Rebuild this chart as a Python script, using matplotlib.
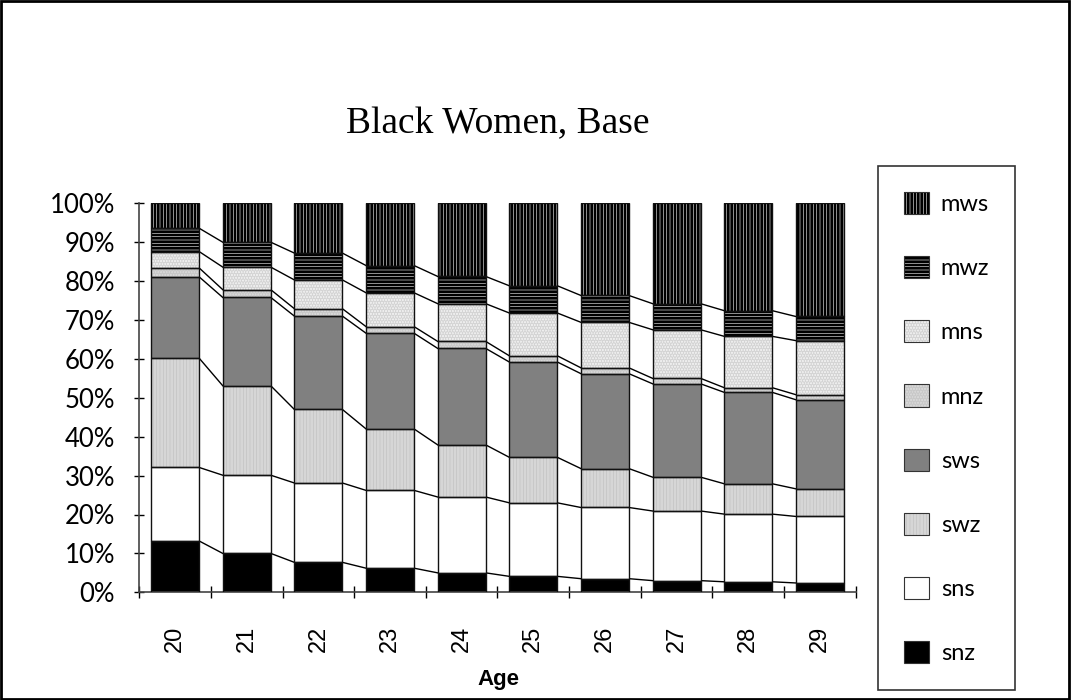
import matplotlib
matplotlib.use("Agg")
import matplotlib.pyplot as plt
from matplotlib.patches import Patch, Rectangle
import numpy as np

# percentages, bottom layer first
ages = ["20", "21", "22", "23", "24", "25", "26", "27", "28", "29"]
snz = [13.2, 10.0, 7.7, 6.2, 5.0, 4.1, 3.5, 3.0, 2.7, 2.4]
sns = [18.9, 20.1, 20.4, 20.0, 19.5, 18.9, 18.3, 17.9, 17.4, 17.1]
swz = [28.1, 23.0, 18.9, 15.8, 13.4, 11.7, 10.0, 8.7, 7.8, 7.1]
sws = [20.9, 22.7, 24.0, 24.6, 24.8, 24.5, 24.4, 24.0, 23.5, 22.9]
mnz = [2.3, 2.0, 1.9, 1.7, 1.8, 1.6, 1.5, 1.4, 1.2, 1.3]
mns = [4.2, 5.8, 7.4, 8.7, 9.7, 11.0, 11.7, 12.5, 13.2, 13.9]
mwz = [6.0, 6.4, 6.9, 7.0, 7.0, 7.0, 6.9, 6.7, 6.6, 6.2]
mws = [6.4, 10.0, 12.8, 16.0, 18.8, 21.2, 23.7, 25.8, 27.6, 29.1]

series = [("snz", snz), ("sns", sns), ("swz", swz), ("sws", sws),
          ("mnz", mnz), ("mns", mns), ("mwz", mwz), ("mws", mws)]

# face colour, hatch, hatch colour
styles = {
    "snz": ("black", "", "black"),
    "sns": ("white", "", "white"),
    "swz": ("#bdbdbd", "|||||", "#d6d6d6"),
    "sws": ("#808080", "", "#808080"),
    "mnz": ("#dadada", "......", "#c8c8c8"),
    "mns": ("#f2f2f2", "......", "#d4d4d4"),
    "mwz": ("white", "-----", "black"),
    "mws": ("white", "|||||", "black"),
}

plt.rcParams["hatch.linewidth"] = 2.0

fig = plt.figure(figsize=(10.71, 7.0), dpi=100)
ax = fig.add_axes([139.3 / 1071, 107.7 / 700, 716.4 / 1071, 389.0 / 700])

x = np.arange(len(ages))
w = 0.67
bottom = np.zeros(len(ages))
handles = {}
for name, vals in series:
    fc, hatch, hc = styles[name]
    ax.bar(x, vals, w, bottom=bottom, color=fc, hatch=hatch, edgecolor=hc,
           linewidth=0, zorder=2)
    ax.bar(x, vals, w, bottom=bottom, facecolor="none", edgecolor="#111111",
           linewidth=1.0, zorder=3)
    handles[name] = (Patch(facecolor=fc, hatch=hatch, edgecolor=hc, linewidth=0),
                     Patch(facecolor="none", edgecolor="#333333", linewidth=0.8))
    bottom = bottom + np.array(vals)
    # series lines between bars
    if name != "mws":
        for i in range(len(ages) - 1):
            ax.plot([x[i] + w / 2, x[i + 1] - w / 2], [bottom[i], bottom[i + 1]],
                    color="black", linewidth=1.0, zorder=1)

ax.set_xlim(-0.5, len(ages) - 0.5)
ax.set_ylim(0, 100)
ax.set_yticks(np.arange(0, 101, 10))
ax.set_yticklabels([f"{v}%" for v in range(0, 101, 10)], family="Lato", fontsize=18.5)
ax.tick_params(axis="y", direction="inout", length=7, width=1, pad=14)
ax.set_xticks(x)
ax.set_xticklabels(ages, rotation=90, family="Liberation Sans", fontsize=17)
ax.tick_params(axis="x", which="major", length=0, pad=24)
ax.set_xticks(np.arange(-0.5, len(ages) + 0.5, 1), minor=True)
ax.tick_params(axis="x", which="minor", direction="inout", length=9, width=1)

for s in ["top", "right"]:
    ax.spines[s].set_visible(False)
for s in ["left", "bottom"]:
    ax.spines[s].set_color("#444444")
    ax.spines[s].set_linewidth(1.2)

fig.text(497.5 / 1071, 1 - 133 / 700, "Black Women, Base", family="Liberation Serif",
         fontsize=27, ha="center", va="baseline")
fig.text(498 / 1071, 1 - 685 / 700, "Age", family="Liberation Sans",
         fontweight="bold", fontsize=16, ha="center", va="baseline")

order = ["mws", "mwz", "mns", "mnz", "sws", "swz", "sns", "snz"]
leg = fig.legend([handles[n] for n in order], order,
                 loc="upper left", bbox_to_anchor=(878 / 1071, 1 - 166 / 700),
                 prop={"family": "Lato", "size": 17},
                 handlelength=1.06, handleheight=1.06, handletextpad=0.5,
                 labelspacing=1.74, borderpad=1.1, borderaxespad=0,
                 fancybox=False, frameon=True)
leg.get_frame().set_edgecolor("black")
leg.get_frame().set_linewidth(1.2)

fig.patches.append(Rectangle((0.001, 0.002), 0.997, 0.996, transform=fig.transFigure,
                             fill=False, edgecolor="black", linewidth=2))

fig.savefig("out.png", dpi=100)
